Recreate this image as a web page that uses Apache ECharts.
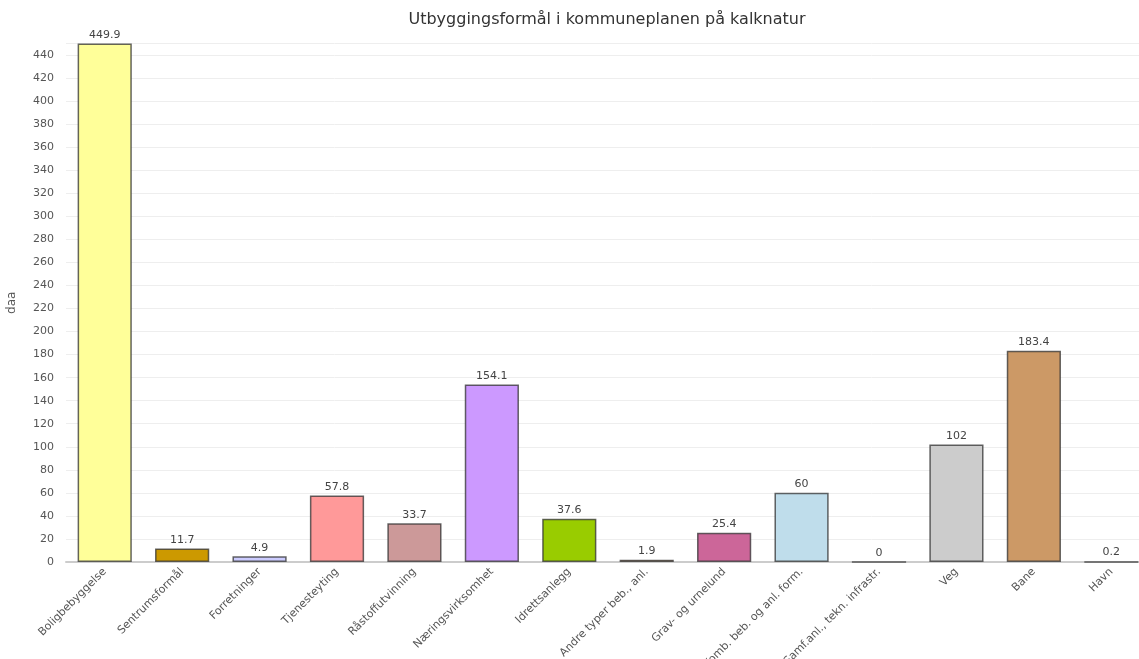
<!DOCTYPE html>
<html>
<head>
<meta charset="utf-8">
<script src="https://cdn.jsdelivr.net/npm/echarts@6/dist/echarts.min.js"></script>
<style>
html, body { margin: 0; padding: 0; background: #fff; }
#chart { width: 1139px; height: 659px; }
</style>
</head>
<body>
<div id="chart"></div>
<script>
var categories = ['Boligbebyggelse', 'Sentrumsformål', 'Forretninger', 'Tjenesteyting', 'Råstoffutvinning',
    'Næringsvirksomhet', 'Idrettsanlegg', 'Andre typer beb., anl.', 'Grav- og urnelund',
    'Komb. beb. og anl. form.', 'Samf.anl., tekn. infrastr.', 'Veg', 'Bane', 'Havn']
var values = [449.9, 11.7, 4.9, 57.8, 33.7, 154.1, 37.6, 1.9, 25.4, 60, 0, 102, 183.4, 0.2]
var barColors = ['#FFFF99', '#CC9900', '#CCCCFF', '#FF9999', '#CC9999', '#CC99FF', '#99CC00',
    '#996633', '#CC6699', '#BFDDEB', '#888888', '#CCCCCC', '#CC9966', '#888888']

var font = 'Tahoma, "DejaVu Sans", sans-serif'

var chart = echarts.init(document.getElementById('chart'))
var option = {
    animation: false,
    title: {
        text: 'Utbyggingsformål i kommuneplanen på kalknatur',
        left: 602,
        textAlign: 'center',
        top: 7,
        textStyle: {
            color: '#333',
            fontSize: 16,
            fontWeight: 'normal',
            fontFamily: font
        }
    },
    grid: {
        top: 43.5,
        left: 66,
        right: -11,
        bottom: 97,
        outerBoundsMode: 'none',
        containLabel: false
    },
    xAxis: {
        type: 'category',
        data: categories,
        axisLine: { lineStyle: { color: '#ccc', width: 2 } },
        axisTick: { alignWithLabel: true, length: 5, lineStyle: { color: '#ccc' } },
        axisLabel: {
            rotate: 45,
            interval: 0,
            color: '#555',
            fontSize: 11,
            fontFamily: font,
            margin: 8
        }
    },
    yAxis: {
        type: 'value',
        min: 0,
        max: 450,
        interval: 20,
        name: 'daa',
        nameLocation: 'middle',
        nameRotate: 90,
        nameGap: 48,
        nameTextStyle: { color: '#555', fontSize: 12, fontFamily: font },
        axisLine: { show: false },
        axisTick: { show: false },
        axisLabel: {
            color: '#555',
            fontSize: 11,
            fontFamily: font,
            margin: 12,
            showMaxLabel: false
        },
        splitLine: { lineStyle: { color: '#eee' } }
    },
    series: [{
        type: 'bar',
        barWidth: '70%',
        data: values.map(function (v, i) {
            return { value: v, itemStyle: { color: barColors[i] } }
        }),
        itemStyle: {
            borderColor: 'rgba(50,50,50,0.75)',
            borderWidth: 1.5
        },
        label: {
            show: true,
            position: 'top',
            distance: 3,
            color: '#444',
            fontSize: 11,
            fontFamily: font
        }
    }]
}
chart.setOption(option)
</script>
</body>
</html>
